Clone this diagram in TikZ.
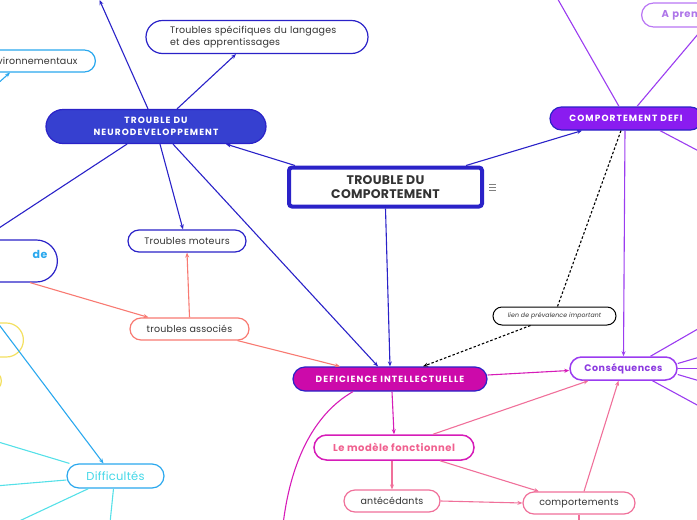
\documentclass[tikz,border=0pt]{standalone}
\usepackage{fontspec}
\setmainfont[LetterSpace=2]{Poppins}
\newfontfamily\capsfont[LetterSpace=12]{Poppins}
\newfontfamily\boldspaced[LetterSpace=5]{Poppins}
\usetikzlibrary{arrows.meta}

\definecolor{tdblue}{HTML}{2A22C8}
\definecolor{neurofill}{HTML}{3640D0}
\definecolor{difill}{HTML}{CC0AAA}
\definecolor{cdfill}{HTML}{8A1CF0}
\definecolor{purpleline}{HTML}{9B3CF0}
\definecolor{conspurple}{HTML}{8C3AE0}
\definecolor{magentaline}{HTML}{D61CB8}
\definecolor{pinkline}{HTML}{F0709A}
\definecolor{pinktext}{HTML}{F0608F}
\definecolor{salmon}{HTML}{F87A72}
\definecolor{lightblue}{HTML}{2AA8EE}
\definecolor{cyanline}{HTML}{55E0E8}
\definecolor{cyantext}{HTML}{44D8E8}
\definecolor{yellowline}{HTML}{F3E060}
\definecolor{textgray}{HTML}{333333}

\tikzset{
  pill/.style={draw, rounded corners=11pt, minimum height=22pt, line width=1.2pt,
    fill=white, inner sep=0pt, text=textgray, font=\fontsize{9.5}{11.5}\selectfont},
  filledpill/.style={pill, text=white, font=\capsfont\bfseries\fontsize{9}{11}\selectfont},
  link/.style={line width=1.1pt}
}

\begin{document}
\begin{tikzpicture}[x=1pt, y=-1pt, >={Stealth[length=5pt,width=4pt]}]
    \useasboundingbox (0,0) rectangle (697,520);

    % main nodes
    \node[draw=tdblue, line width=4pt, rounded corners=3pt, minimum width=193pt, minimum height=39pt,
          align=center, text=textgray, font=\bfseries\fontsize{12.5}{14}\selectfont] (tc) at (385.5,187) {TROUBLE DU\\COMPORTEMENT};
    \node[filledpill, draw=tdblue, fill=neurofill, minimum width=220pt, minimum height=34pt,
          rounded corners=17pt, align=center, font=\capsfont\bfseries\fontsize{9}{12.5}\selectfont] (neuro) at (156,126.5) {TROUBLE DU\\NEURODEVELOPPEMENT};
    \node[filledpill, draw=tdblue, fill=difill, minimum width=194pt, minimum height=24pt, rounded corners=12pt] (di) at (390,379) {DEFICIENCE INTELLECTUELLE};
    \node[filledpill, draw=tdblue, fill=cdfill, minimum width=152pt, minimum height=23pt, rounded corners=11.5pt] (cd) at (626,118.5) {COMPORTEMENT DEFI};

    % trouble du neurodeveloppement
    \node[pill, draw=tdblue, minimum width=222pt, minimum height=33pt, rounded corners=16.5pt,
          text width=174pt, align=left] (tsla) at (257,37) {Troubles spécifiques du langages\\et des apprentissages};
    \node[pill, draw=lightblue, minimum width=166pt, text width=130pt, align=right, anchor=east] (env) at (96,61) {environnementaux};
    \node[pill, draw=tdblue, minimum width=160pt, minimum height=42pt, rounded corners=21pt, text width=140pt,
          align=right, anchor=east, text=lightblue, font=\boldspaced\bfseries\fontsize{11}{13}\selectfont] (tdah) at (58,261) {de\\\mbox{}};
    \node[pill, draw=tdblue, minimum width=118pt] (tm) at (187,241) {Troubles moteurs};
    \node[pill, draw=salmon, minimum width=119pt] (ta) at (189.5,329) {troubles associés};

    % difficultes
    \node[pill, draw=yellowline, minimum width=80pt, minimum height=34pt, rounded corners=17pt, anchor=east] (yel) at (24,340) {};
    \node[pill, draw=yellowline, minimum width=60pt, minimum height=20pt, rounded corners=10pt, anchor=east] (yelb) at (2,381) {};
    \node[pill, draw=lightblue, minimum width=97pt, minimum height=24pt, rounded corners=12pt,
          text=cyantext, font=\fontsize{11.5}{13}\selectfont] (diff) at (115.5,476) {Difficultés};

    % comportement defi
    \node[pill, draw=purpleline!70, minimum width=120pt, minimum height=24pt, rounded corners=12pt, anchor=west,
          text width=80pt, align=left, text=conspurple!70, font=\boldspaced\bfseries\fontsize{10}{12}\selectfont] (aprend) at (641,15) {A prendre};
    \node[pill, draw=black, line width=1pt, minimum width=123pt, minimum height=18pt, rounded corners=9pt,
          font=\itshape\fontsize{6.2}{7.5}\selectfont] (lien) at (554.5,316) {lien de prévalence important};
    \node[pill, draw=purpleline, line width=1.5pt, minimum width=107pt, minimum height=23pt, rounded corners=11.5pt,
          text=conspurple, font=\boldspaced\bfseries\fontsize{9.5}{11}\selectfont] (cons) at (623.5,368.5) {Conséquences};

    % deficience intellectuelle
    \node[pill, draw=magentaline, line width=1.5pt, minimum width=160pt, minimum height=25pt, rounded corners=12.5pt,
          text=pinktext, font=\boldspaced\bfseries\fontsize{10}{12}\selectfont] (lmf) at (394,447.5) {Le modèle fonctionnel};
    \node[pill, draw=pinkline, minimum width=96pt] (ant) at (392,501) {antécédants};
    \node[pill, draw=pinkline, minimum width=112pt] (comp) at (579,503) {comportements};

    % free ends
    \coordinate (neurotop) at (99.5,0);
    \coordinate (neuroleft) at (-30,247);
    \coordinate (envsrc) at (-4,85);
    \coordinate (cdtop) at (556,-4);
    \coordinate (cdright) at (710,157);
    \coordinate (cdprend) at (704,27);
    \coordinate (yelsrc) at (-3,322);
    \coordinate (dibottom) at (283,525);
    \coordinate (compbottom) at (579,525);

    % tiny notes mark
    \foreach \ny in {184,187,190}
        \draw[gray, line width=0.6pt] (489,\ny) -- (496,\ny);

    % trouble du comportement
    \draw[->, link, tdblue] ([xshift=8pt]tc.north west) -- ([xshift=70pt]neuro.south);
    \draw[->, link, tdblue] ([xshift=-18pt]tc.north east) -- ([xshift=-44pt]cd.south);
    \draw[->, link, tdblue] (tc.south) -- (di.north);

    % neurodeveloppement
    \draw[->, link, tdblue] ([xshift=21pt]neuro.north) -- ([xshift=-21pt]tsla.south);
    \draw[->, link, tdblue] ([xshift=-8pt]neuro.north) -- (neurotop);
    \draw[link, tdblue] ([xshift=-29pt]neuro.south) -- (neuroleft);
    \draw[->, link, tdblue] ([xshift=4pt]neuro.south) -- ([xshift=-4pt]tm.north);
    \draw[->, link, tdblue] ([xshift=17pt]neuro.south) -- ([xshift=-12pt]di.north);
    \draw[->, link, lightblue] (envsrc) -- ([xshift=-86pt]env.south east);

    % troubles associes
    \draw[->, link, salmon] ([xshift=-28pt]tdah.south east) -- ([xshift=-41pt]ta.north);
    \draw[->, link, salmon] (ta.north) -- (tm.south);
    \draw[->, link, salmon] ([xshift=48pt]ta.south) -- ([xshift=-50pt]di.north);

    % difficultes
    \draw[->, link, lightblue] (yelsrc) -- ([xshift=-12pt]diff.north);
    \draw[link, cyanline] ([xshift=3pt]diff.north west) -- (-5,441);
    \draw[link, cyanline] ([yshift=-4pt]diff.west) -- (-5,486);
    \draw[link, cyanline] ([xshift=-27pt]diff.south) -- (15,523);
    \draw[link, cyanline] ([xshift=-2pt]diff.south) -- (110,523);

    % comportement defi
    \draw[link, purpleline] ([xshift=-7pt]cd.north) -- (cdtop);
    \draw[link, purpleline] ([xshift=11pt]cd.north) -- (cdprend);
    \draw[link, purpleline] ([xshift=34pt]cd.south) -- (cdright);
    \draw[->, link, purpleline] ([xshift=-1pt]cd.south) -- (cons.north);
    \draw[link, black, dash pattern=on 2.5pt off 2pt] ([xshift=-5pt]cd.south) -- ([xshift=3pt]lien.north);
    \draw[->, link, black, dash pattern=on 2.5pt off 2pt] ([xshift=-24pt]lien.south) -- ([xshift=33pt]di.north);

    % consequences
    \draw[link, purpleline] ([xshift=27pt]cons.north) -- (710,322);
    \draw[link, purpleline] ([yshift=5pt]cons.east) -- (710,354);
    \draw[link, purpleline] (cons.east) -- (710,368.5);
    \draw[link, purpleline] ([yshift=-6pt]cons.east) -- (710,384);
    \draw[link, purpleline] ([xshift=29pt]cons.south) -- (710,412);

    % deficience intellectuelle
    \draw[->, link, magentaline] ([yshift=4pt]di.east) -- ([yshift=-2pt]cons.west);
    \draw[->, link, magentaline] ([xshift=2pt]di.south) -- (lmf.north);
    \draw[link, magentaline] ([xshift=-37pt]di.south) .. controls (312,415) and (290,465) .. (dibottom);

    % modele fonctionnel
    \draw[->, link, pinkline] ([xshift=39pt]lmf.north) -- ([xshift=-35pt]cons.south);
    \draw[->, link, pinkline] ([xshift=46pt]lmf.south) -- ([xshift=-40pt]comp.north);
    \draw[->, link, pinkline] ([xshift=-2pt]lmf.south) -- (ant.north);
    \draw[->, link, pinkline] (ant.east) -- (comp.west);
    \draw[->, link, pinkline] ([xshift=5pt]comp.north) -- ([xshift=-5pt]cons.south);
    \draw[link, pinkline] (comp.south) -- (compbottom);
\end{tikzpicture}
\end{document}
